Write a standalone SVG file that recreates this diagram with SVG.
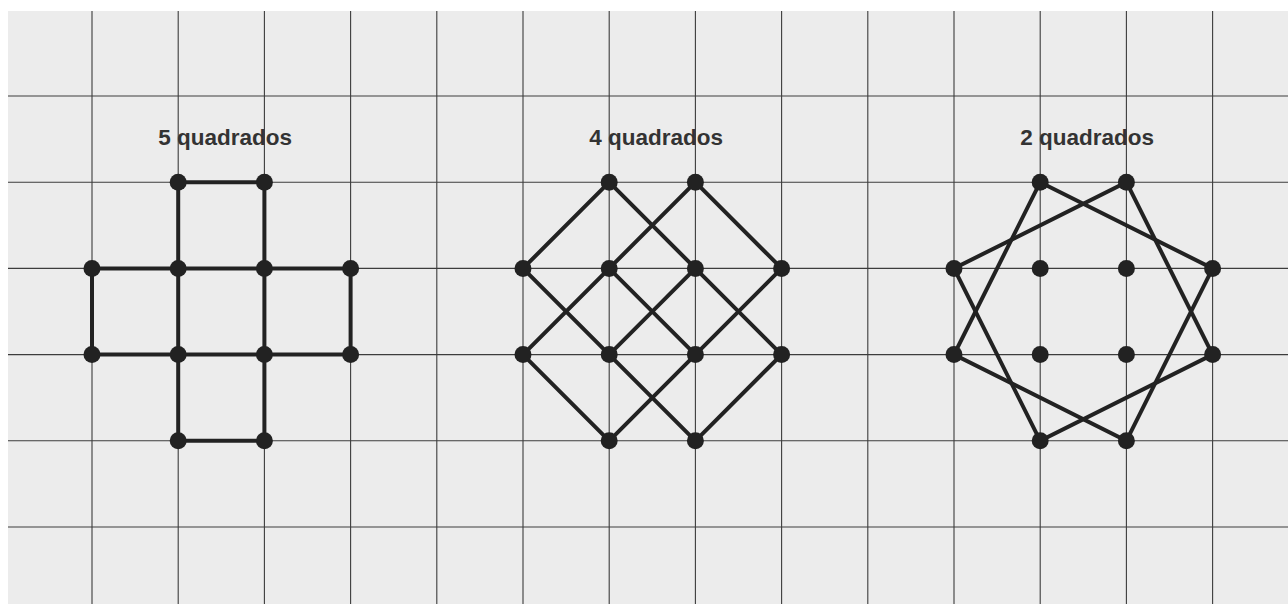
<svg xmlns="http://www.w3.org/2000/svg" width="1288" height="604" viewBox="0 0 1288 604">
<style>
.bg{fill:#ececec}
.grid line{stroke:#3c3c3c;stroke-width:1.1}
.edge{stroke:#222;stroke-width:4;fill:none;stroke-linecap:round}
.dot{fill:#222}
.lbl{font-family:"Liberation Sans",Arial,sans-serif;font-weight:bold;font-size:22.5px;fill:#333}
</style>
<rect width="1288" height="604" fill="#fff"/>
<rect class="bg" x="8" y="11" width="1280" height="593"/>
<g class="grid" id="grid">
<line x1="92" y1="11" x2="92" y2="604"/>
<line x1="178.2" y1="11" x2="178.2" y2="604"/>
<line x1="264.4" y1="11" x2="264.4" y2="604"/>
<line x1="350.6" y1="11" x2="350.6" y2="604"/>
<line x1="436.8" y1="11" x2="436.8" y2="604"/>
<line x1="523" y1="11" x2="523" y2="604"/>
<line x1="609.2" y1="11" x2="609.2" y2="604"/>
<line x1="695.4" y1="11" x2="695.4" y2="604"/>
<line x1="781.6" y1="11" x2="781.6" y2="604"/>
<line x1="867.8" y1="11" x2="867.8" y2="604"/>
<line x1="954" y1="11" x2="954" y2="604"/>
<line x1="1040.2" y1="11" x2="1040.2" y2="604"/>
<line x1="1126.4" y1="11" x2="1126.4" y2="604"/>
<line x1="1212.6" y1="11" x2="1212.6" y2="604"/>
<line x1="8" y1="96" x2="1288" y2="96"/>
<line x1="8" y1="182.2" x2="1288" y2="182.2"/>
<line x1="8" y1="268.4" x2="1288" y2="268.4"/>
<line x1="8" y1="354.6" x2="1288" y2="354.6"/>
<line x1="8" y1="440.8" x2="1288" y2="440.8"/>
<line x1="8" y1="527" x2="1288" y2="527"/>
</g>
<g id="labels">
<text class="lbl" x="158.2" y="145">5 quadrados</text>
<text class="lbl" x="589.2" y="145">4 quadrados</text>
<text class="lbl" x="1020.2" y="145">2 quadrados</text>
</g>
<g id="connectors">
<!-- figure 1 -->
<polyline class="edge" points="178.2,440.8 178.2,182.2 264.4,182.2 264.4,440.8 178.2,440.8"/>
<polyline class="edge" points="92,268.4 350.6,268.4 350.6,354.6 92,354.6 92,268.4"/>
<!-- figure 2 -->
<line class="edge" x1="609.2" y1="182.2" x2="523" y2="268.4"/>
<line class="edge" x1="609.2" y1="182.2" x2="781.6" y2="354.6"/>
<line class="edge" x1="695.4" y1="182.2" x2="523" y2="354.6"/>
<line class="edge" x1="695.4" y1="182.2" x2="781.6" y2="268.4"/>
<line class="edge" x1="523" y1="268.4" x2="695.4" y2="440.8"/>
<line class="edge" x1="609.2" y1="268.4" x2="695.4" y2="354.6"/>
<line class="edge" x1="695.4" y1="268.4" x2="609.2" y2="354.6"/>
<line class="edge" x1="781.6" y1="268.4" x2="609.2" y2="440.8"/>
<line class="edge" x1="523" y1="354.6" x2="609.2" y2="440.8"/>
<line class="edge" x1="781.6" y1="354.6" x2="695.4" y2="440.8"/>
<!-- figure 3 -->
<polygon class="edge" points="1040.2,182.2 1212.6,268.4 1126.4,440.8 954,354.6"/>
<polygon class="edge" points="1126.4,182.2 1212.6,354.6 1040.2,440.8 954,268.4"/>
</g>
<g id="fig1-nodes" class="dot">
<g id="f1-a"><circle cx="178.2" cy="182.2" r="8.5"/></g>
<g id="f1-b"><circle cx="264.4" cy="182.2" r="8.5"/></g>
<g id="f1-c"><circle cx="92" cy="268.4" r="8.5"/></g>
<g id="f1-d"><circle cx="178.2" cy="268.4" r="8.5"/></g>
<g id="f1-e"><circle cx="264.4" cy="268.4" r="8.5"/></g>
<g id="f1-f"><circle cx="350.6" cy="268.4" r="8.5"/></g>
<g id="f1-g"><circle cx="92" cy="354.6" r="8.5"/></g>
<g id="f1-h"><circle cx="178.2" cy="354.6" r="8.5"/></g>
<g id="f1-i"><circle cx="264.4" cy="354.6" r="8.5"/></g>
<g id="f1-j"><circle cx="350.6" cy="354.6" r="8.5"/></g>
<g id="f1-k"><circle cx="178.2" cy="440.8" r="8.5"/></g>
<g id="f1-l"><circle cx="264.4" cy="440.8" r="8.5"/></g>
</g>
<g id="fig2-nodes" class="dot">
<g id="f2-a"><circle cx="609.2" cy="182.2" r="8.5"/></g>
<g id="f2-b"><circle cx="695.4" cy="182.2" r="8.5"/></g>
<g id="f2-c"><circle cx="523" cy="268.4" r="8.5"/></g>
<g id="f2-d"><circle cx="609.2" cy="268.4" r="8.5"/></g>
<g id="f2-e"><circle cx="695.4" cy="268.4" r="8.5"/></g>
<g id="f2-f"><circle cx="781.6" cy="268.4" r="8.5"/></g>
<g id="f2-g"><circle cx="523" cy="354.6" r="8.5"/></g>
<g id="f2-h"><circle cx="609.2" cy="354.6" r="8.5"/></g>
<g id="f2-i"><circle cx="695.4" cy="354.6" r="8.5"/></g>
<g id="f2-j"><circle cx="781.6" cy="354.6" r="8.5"/></g>
<g id="f2-k"><circle cx="609.2" cy="440.8" r="8.5"/></g>
<g id="f2-l"><circle cx="695.4" cy="440.8" r="8.5"/></g>
</g>
<g id="fig3-nodes" class="dot">
<g id="f3-a"><circle cx="1040.2" cy="182.2" r="8.5"/></g>
<g id="f3-b"><circle cx="1126.4" cy="182.2" r="8.5"/></g>
<g id="f3-c"><circle cx="954" cy="268.4" r="8.5"/></g>
<g id="f3-d"><circle cx="1040.2" cy="268.4" r="8.5"/></g>
<g id="f3-e"><circle cx="1126.4" cy="268.4" r="8.5"/></g>
<g id="f3-f"><circle cx="1212.6" cy="268.4" r="8.5"/></g>
<g id="f3-g"><circle cx="954" cy="354.6" r="8.5"/></g>
<g id="f3-h"><circle cx="1040.2" cy="354.6" r="8.5"/></g>
<g id="f3-i"><circle cx="1126.4" cy="354.6" r="8.5"/></g>
<g id="f3-j"><circle cx="1212.6" cy="354.6" r="8.5"/></g>
<g id="f3-k"><circle cx="1040.2" cy="440.8" r="8.5"/></g>
<g id="f3-l"><circle cx="1126.4" cy="440.8" r="8.5"/></g>
</g>
</svg>
